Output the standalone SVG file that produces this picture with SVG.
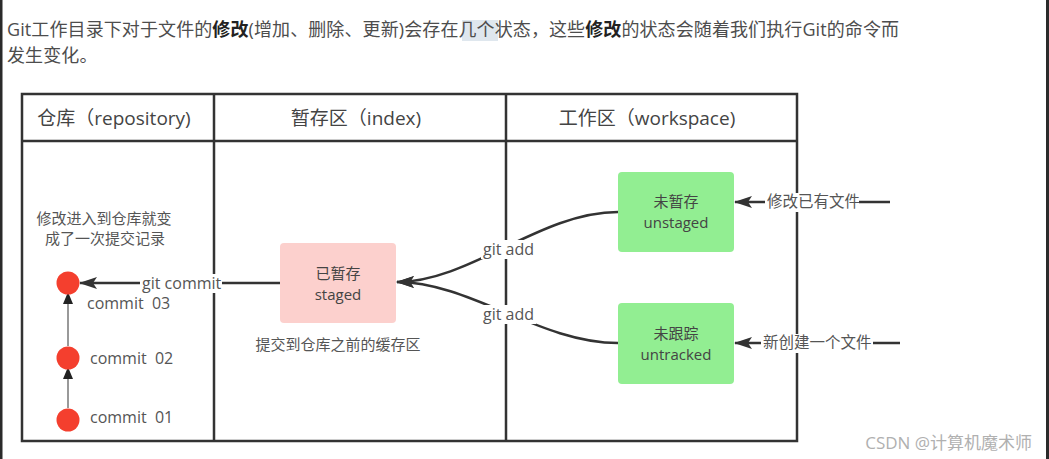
<svg xmlns="http://www.w3.org/2000/svg" width="1049" height="459" viewBox="0 0 1049 459">
<style>
  text { font-family: "Open Sans", "Noto Sans CJK SC", sans-serif; fill: #4a4a4a; }
  .para { font-size: 18px; fill: #4d4d4d; letter-spacing: 0.1px; }
  .bold { font-weight: bold; fill: #222; }
  .hdr { font-size: 19px; fill: #444; text-anchor: middle; }
  .lbl { font-size: 15px; fill: #555; }
  .rl { font-size: 15.5px; fill: #555; }
  .mid { text-anchor: middle; }
  .node { font-size: 15px; fill: #444; text-anchor: middle; }
  .cmt { font-size: 16px; fill: #555; }
  .grid { stroke: #333; stroke-width: 2.5; fill: none; }
  .conn { stroke: #333; stroke-width: 2.5; fill: none; }
  .chain { stroke: #777; stroke-width: 1.5; fill: none; }
  .bg { fill: #fff; }
  .commit { fill: #f43f2e; }
</style>
<defs>
  <marker id="ah" viewBox="0 0 18 12" refX="17" refY="6" markerWidth="18" markerHeight="12" markerUnits="userSpaceOnUse" orient="auto">
    <path d="M0,0 L18,6 L0,12 L4,6 z" fill="#333"/>
  </marker>
  <marker id="ahs" viewBox="0 0 10 12" refX="9" refY="5" markerWidth="10" markerHeight="12" markerUnits="userSpaceOnUse" orient="auto">
    <path d="M0,0 L12,5 L0,10 z" fill="#222"/>
  </marker>
</defs>
<rect width="1049" height="459" fill="#fff"/>
<rect x="0" y="0" width="2.5" height="459" fill="#2a2a2a"/>
<rect x="1046" y="0" width="3" height="459" fill="#2a2a2a"/>

<!-- paragraph -->
<rect x="462" y="20" width="36" height="21" fill="#dfe7ee"/>
<text class="para" x="7" y="36">Git工作目录下对于文件的<tspan class="bold">修改</tspan>(增加、删除、更新)会存在几个状态，这些<tspan class="bold">修改</tspan>的状态会随着我们执行Git的命令而</text>
<text class="para" x="7" y="62">发生变化。</text>

<!-- table -->
<g id="table">
  <rect class="grid" x="22" y="94" width="775" height="347"/>
  <line class="grid" x1="22" y1="141" x2="797" y2="141"/>
  <line class="grid" x1="214" y1="94" x2="214" y2="441"/>
  <line class="grid" x1="506" y1="94" x2="506" y2="441"/>
  <text class="hdr" x="114" y="125">仓库（repository)</text>
  <text class="hdr" x="356" y="125">暂存区（index)</text>
  <text class="hdr" x="647" y="125">工作区（workspace)</text>
</g>

<!-- connectors -->
<g id="connectors">
  <path class="conn" d="M618,212 C540,212 470,282 397,282" marker-end="url(#ah)"/>
  <path class="conn" d="M618,343 C540,343 470,282 397,282" marker-end="url(#ah)"/>
  <line class="conn" x1="280" y1="283" x2="80" y2="283" marker-end="url(#ah)"/>
  <line class="conn" x1="890" y1="202" x2="735" y2="202" marker-end="url(#ah)"/>
  <line class="conn" x1="900" y1="343" x2="735" y2="343" marker-end="url(#ah)"/>
  <line class="chain" x1="68" y1="408" x2="68" y2="370" marker-end="url(#ahs)"/>
  <line class="chain" x1="68" y1="346" x2="68" y2="295" marker-end="url(#ahs)"/>

  <rect class="bg" x="140" y="274" width="82" height="19"/>
  <text class="cmt" x="142" y="289">git commit</text>
  <rect class="bg" x="481" y="240" width="55" height="19"/>
  <text class="cmt" x="483" y="255">git add</text>
  <rect class="bg" x="481" y="305" width="55" height="19"/>
  <text class="cmt" x="483" y="320">git add</text>
  <rect class="bg" x="765" y="193" width="94" height="19"/>
  <text class="rl" x="767" y="207">修改已有文件</text>
  <rect class="bg" x="761" y="334" width="112" height="19"/>
  <text class="rl" x="763" y="348">新创建一个文件</text>
</g>

<!-- repository notes -->
<g id="repo-note">
  <text class="lbl mid" x="104" y="224">修改进入到仓库就变</text>
  <text class="lbl mid" x="105" y="244">成了一次提交记录</text>
</g>

<g id="commit03">
  <circle class="commit" cx="68" cy="283" r="11.5"/>
  <text class="cmt" x="87" y="309" xml:space="preserve">commit  03</text>
</g>
<g id="commit02">
  <circle class="commit" cx="68" cy="358" r="11.5"/>
  <text class="cmt" x="90" y="364" xml:space="preserve">commit  02</text>
</g>
<g id="commit01">
  <circle class="commit" cx="68" cy="420" r="11.5"/>
  <text class="cmt" x="90" y="423" xml:space="preserve">commit  01</text>
</g>

<g id="staged">
  <rect x="280" y="243" width="116" height="80" rx="4" fill="#fcd0cd"/>
  <text class="node" x="338" y="279">已暂存</text>
  <text class="node" x="338" y="300">staged</text>
</g>
<text class="lbl mid" x="338" y="350">提交到仓库之前的缓存区</text>

<g id="unstaged">
  <rect x="618" y="172" width="116" height="80" rx="4" fill="#92ee92"/>
  <text class="node" x="676" y="207">未暂存</text>
  <text class="node" x="676" y="228">unstaged</text>
</g>
<g id="untracked">
  <rect x="618" y="303" width="116" height="81" rx="4" fill="#92ee92"/>
  <text class="node" x="676" y="339">未跟踪</text>
  <text class="node" x="676" y="360">untracked</text>
</g>

<text x="1032" y="449" text-anchor="end" style="font-size:17px; fill:#b0b0b0;">CSDN @计算机魔术师</text>
</svg>
